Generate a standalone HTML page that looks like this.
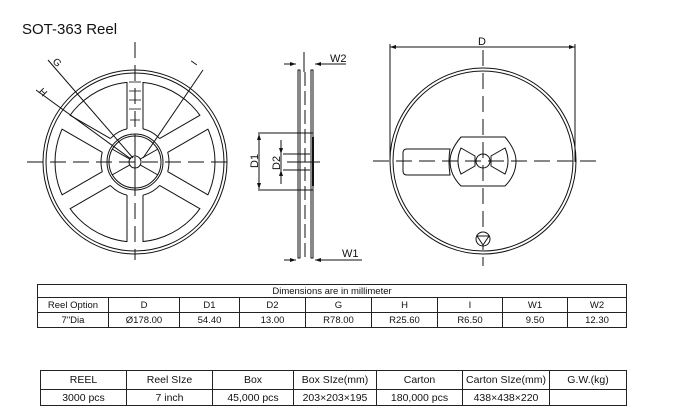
<!DOCTYPE html>
<html><head><meta charset="utf-8"><style>
body{margin:0;background:#fff;width:681px;height:418px;overflow:hidden;position:relative;font-family:"Liberation Sans",Arial,sans-serif;}
table{position:absolute;border-collapse:collapse;font-size:9.5px;color:#111;}
td{border:1px solid #222;text-align:center;padding:0;}
</style></head><body>
<svg width="681" height="418" style="position:absolute;left:0;top:0" font-family="Liberation Sans, Arial, sans-serif">
<text x="22" y="34" font-size="15" fill="#111">SOT-363 Reel</text>
<g stroke="#111" fill="none" stroke-width="1">
<circle cx="135" cy="162" r="92"/>
<circle cx="135" cy="162" r="89"/>
<circle cx="135" cy="162" r="80"/>
<circle cx="135" cy="162" r="34"/>
<g transform="rotate(-90 135 162)"><rect x="167" y="154" width="50" height="16" fill="#fff" stroke="none"/><line x1="168" y1="154" x2="215" y2="154"/><line x1="168" y1="170" x2="215" y2="170"/></g>
<g transform="rotate(90 135 162)"><rect x="167" y="154" width="50" height="16" fill="#fff" stroke="none"/><line x1="168" y1="154" x2="215" y2="154"/><line x1="168" y1="170" x2="215" y2="170"/></g>
<g transform="rotate(-30 135 162)"><rect x="167" y="154" width="50" height="16" fill="#fff" stroke="none"/><line x1="168" y1="154" x2="215" y2="154"/><line x1="168" y1="170" x2="215" y2="170"/></g>
<g transform="rotate(30 135 162)"><rect x="167" y="154" width="50" height="16" fill="#fff" stroke="none"/><line x1="168" y1="154" x2="215" y2="154"/><line x1="168" y1="170" x2="215" y2="170"/></g>
<g transform="rotate(150 135 162)"><rect x="167" y="154" width="50" height="16" fill="#fff" stroke="none"/><line x1="168" y1="154" x2="215" y2="154"/><line x1="168" y1="170" x2="215" y2="170"/></g>
<g transform="rotate(210 135 162)"><rect x="167" y="154" width="50" height="16" fill="#fff" stroke="none"/><line x1="168" y1="154" x2="215" y2="154"/><line x1="168" y1="170" x2="215" y2="170"/></g>
<circle cx="135" cy="162" r="28" fill="#fff"/>
<circle cx="135" cy="162" r="26"/>
<line x1="135" y1="136" x2="135" y2="188"/>
<line x1="112" y1="149" x2="158" y2="175"/>
<line x1="112" y1="175" x2="158" y2="149"/>
<circle cx="135" cy="162" r="6" fill="#fff"/>
<g stroke-width="0.8"><line x1="129" y1="82" x2="141" y2="82"/><line x1="129" y1="91" x2="141" y2="91"/><line x1="129" y1="100" x2="141" y2="100"/><line x1="129" y1="109" x2="141" y2="109"/><line x1="130" y1="120" x2="140" y2="120"/></g>
<line x1="48" y1="60" x2="133" y2="158"/>
<line x1="36" y1="90" x2="131" y2="159"/>
<line x1="203" y1="70" x2="143" y2="158"/>
<line x1="27" y1="162" x2="233" y2="162" stroke-dasharray="16,7"/>
<line x1="135" y1="42" x2="135" y2="260" stroke-dasharray="16,7"/>
<rect x="298" y="70" width="2" height="188"/>
<rect x="311" y="70" width="2" height="188"/>
<line x1="304" y1="52" x2="304" y2="72"/>
<line x1="305" y1="72" x2="305" y2="258" stroke-dasharray="14,5"/>
<line x1="298" y1="133" x2="313" y2="133"/><line x1="298" y1="190" x2="313" y2="190"/>
<line x1="313" y1="137" x2="313" y2="186" stroke-width="2"/>
<line x1="258" y1="133" x2="300" y2="133"/><line x1="258" y1="190" x2="300" y2="190"/>
<line x1="259" y1="134" x2="259" y2="189"/>
<line x1="283" y1="154" x2="310" y2="154"/><line x1="283" y1="170" x2="310" y2="170"/>
<line x1="281" y1="140" x2="281" y2="184"/>
<line x1="287" y1="162" x2="320" y2="162"/>
<line x1="284" y1="64" x2="296" y2="64"/><line x1="315" y1="64" x2="346" y2="64"/>
<line x1="284" y1="260" x2="296" y2="260"/><line x1="315" y1="260" x2="362" y2="260"/>
<circle cx="483" cy="161" r="93"/>
<circle cx="483" cy="161" r="90"/>
<line x1="390" y1="47" x2="575" y2="47"/>
<line x1="390" y1="44" x2="390" y2="162"/><line x1="575" y1="44" x2="575" y2="162"/>
<path d="M461 137 H505 Q516 150 516 161 Q516 175 505 186 H461 Q450 175 450 161 Q450 150 461 137 Z" fill="#fff"/>
<path d="M407 149 H450 Q448 161 450 175 H407 Q403 175 403 171 V153 Q403 149 407 149 Z" fill="#fff"/>
<path d="M461 148 L475 156 V166 L461 174 Q455 161 461 148 Z"/>
<path d="M505 148 L491 156 V166 L505 174 Q511 161 505 148 Z"/>
<circle cx="483" cy="161" r="7" fill="#fff"/>
<line x1="373" y1="161" x2="600" y2="161" stroke-dasharray="16,7"/>
<line x1="483" y1="50" x2="483" y2="266" stroke-dasharray="16,7"/>
<circle cx="483" cy="239" r="7" fill="#fff"/>
<path d="M477 236 H489 L483 245 Z"/>
</g>
<g fill="#111" stroke="none">
<path d="M390 47 l6 -2 v4 z M575 47 l-6 -2 v4 z"/>
<path d="M259 134 l-2 6 h4 z M259 189 l-2 -6 h4 z M281 154 l-2 -6 h4 z M281 170 l-2 6 h4 z"/>
<path d="M296 64 l-6 -2 v4 z M315 64 l6 -2 v4 z M296 260 l-6 -2 v4 z M315 260 l6 -2 v4 z"/>
</g>
<g font-size="11" fill="#111">
<text x="478" y="45">D</text>
<text x="330" y="62">W2</text>
<text x="342" y="257">W1</text>
<text transform="translate(258 168) rotate(-90)">D1</text>
<text transform="translate(280 170) rotate(-90)">D2</text>
<text transform="translate(52 62) rotate(45)" font-size="10">G</text>
<text transform="translate(38 92) rotate(45)" font-size="10">H</text>
<text transform="translate(196 66) rotate(-55)" font-size="10">I</text>
</g>
</svg>
<table style="left:37px;top:284px;width:590px;">
<tr style="height:13px"><td colspan="9">Dimensions are in millimeter</td></tr>
<tr style="height:15px"><td style="width:70px">Reel Option</td><td style="width:70px">D</td><td style="width:59px">D1</td><td style="width:65px">D2</td><td style="width:65px">G</td><td style="width:65px">H</td><td style="width:64px">I</td><td style="width:64px">W1</td><td>W2</td></tr>
<tr style="height:15px"><td>7"Dia</td><td>Ø178.00</td><td>54.40</td><td>13.00</td><td>R78.00</td><td>R25.60</td><td>R6.50</td><td>9.50</td><td>12.30</td></tr>
</table>
<table style="left:40px;top:370px;width:587px;font-size:10.5px;">
<tr style="height:19px"><td style="width:85px">REEL</td><td style="width:85px">Reel SIze</td><td style="width:80px">Box</td><td style="width:82px">Box SIze(mm)</td><td style="width:85px">Carton</td><td style="width:86px">Carton SIze(mm)</td><td>G.W.(kg)</td></tr>
<tr style="height:16px"><td>3000 pcs</td><td>7 inch</td><td>45,000 pcs</td><td>203×203×195</td><td>180,000 pcs</td><td>438×438×220</td><td></td></tr>
</table>
</body></html>
